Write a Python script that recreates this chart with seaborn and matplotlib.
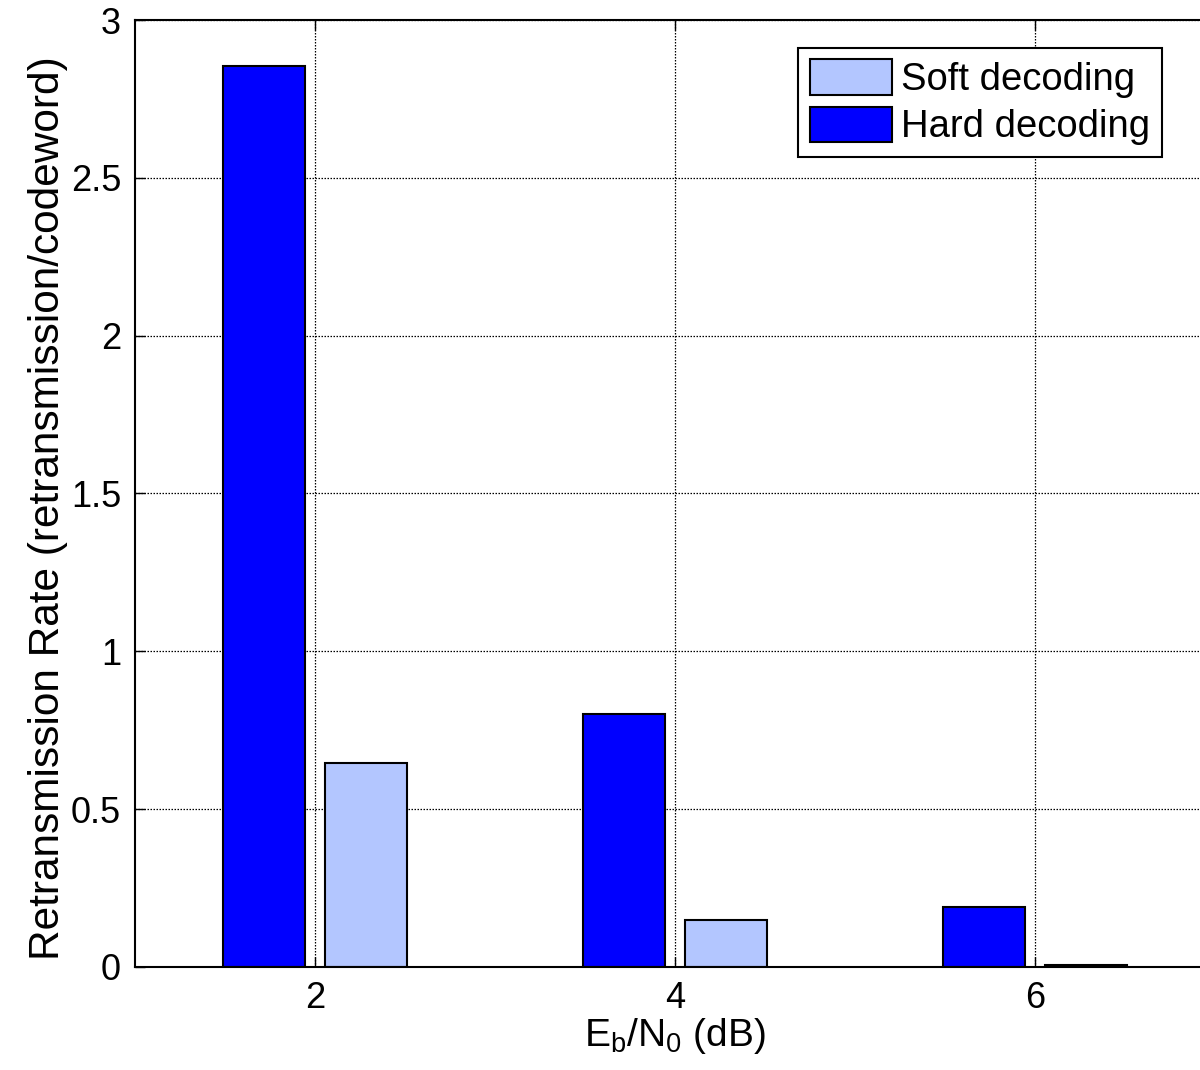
import matplotlib
matplotlib.use("Agg")
import matplotlib.pyplot as plt
import matplotlib.ticker as mticker
from matplotlib.patches import Patch
import seaborn as sns
import pandas as pd

ebn0 = [2, 4, 6]
hard = [2.855, 0.80, 0.19]
soft = [0.645, 0.15, 0.005]
series = ["Hard decoding", "Soft decoding"]
legend_order = ["Soft decoding", "Hard decoding"]
colors = {"Hard decoding": "#0000FF", "Soft decoding": "#B3C6FF"}

df = pd.DataFrame({
    "x": ebn0 + ebn0,
    "y": hard + soft,
    "s": [series[0]] * len(ebn0) + [series[1]] * len(ebn0),
})

sns.set_theme(style="white")
plt.rcParams["font.family"] = ["Liberation Sans", "DejaVu Sans"]
plt.rcParams["mathtext.fontset"] = "custom"
plt.rcParams["mathtext.rm"] = "Liberation Sans"
plt.rcParams["mathtext.it"] = "Liberation Sans"
for k in ["text.color", "axes.labelcolor", "xtick.color", "ytick.color"]:
    plt.rcParams[k] = "black"

fig = plt.figure(figsize=(12, 10.7), dpi=100)
ax = fig.add_axes([0.1125, 0.0963, 0.9, 0.885])

sns.barplot(data=df, x="x", y="y", hue="s", hue_order=series, palette=colors,
            native_scale=True, width=0.568, gap=0.2, edgecolor="black",
            linewidth=1.5, saturation=1, ax=ax, legend=False)

ax.set_xlim(1, 7)
ax.set_ylim(0, 3)
ax.set_xticks(ebn0)
ax.set_yticks([0, 0.5, 1, 1.5, 2, 2.5, 3])
ax.yaxis.set_major_formatter(mticker.FuncFormatter(lambda v, p: f"{v:g}"))
ax.grid(True, color="black", linestyle=(0, (1.2, 1.2)), linewidth=0.9)
ax.set_axisbelow(True)
ax.tick_params(direction="in", length=7, width=1, labelsize=26, top=True,
               right=True, bottom=True, left=True, pad=10)
for sp in ax.spines.values():
    sp.set_color("black")
    sp.set_linewidth(1.5)

ax.set_xlabel(r"$\mathrm{E_b/N_0}$ (dB)", fontsize=28, labelpad=0)
ax.set_ylabel("Retransmission Rate (retransmission/codeword)", fontsize=30.5)
ax.yaxis.set_label_coords(-0.062, 0.485)

handles = [Patch(facecolor=colors[s], edgecolor="black", linewidth=1.5) for s in legend_order]
leg = ax.legend(handles, legend_order, loc="upper right",
                bbox_to_anchor=((1162 - 135) / 1080, (967 - 47) / 948),
                fontsize=27.5, fancybox=False, edgecolor="black", framealpha=1,
                handlelength=2.15, handleheight=1.05, handletextpad=0.25,
                borderpad=0.3, labelspacing=0.22, borderaxespad=0)
leg.get_frame().set_linewidth(1.5)

fig.savefig("out.png", dpi=100)
